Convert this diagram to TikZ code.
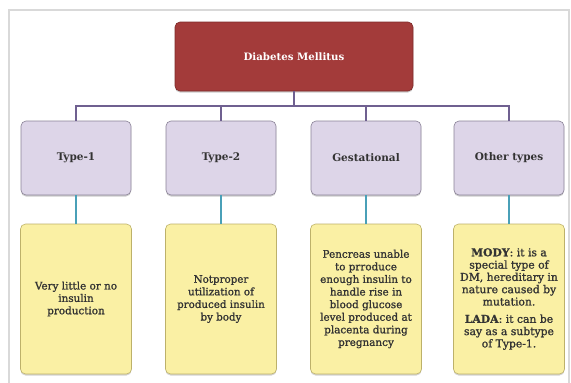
\documentclass[tikz,border=0pt]{standalone}
\usepackage{fontspec}
\setmainfont{DejaVu Serif}
\newfontfamily\notefont{DejaVu Serif}[FakeBold=1.2]
\usetikzlibrary{positioning,calc,shadows}
\definecolor{RootRed}{HTML}{A33B3A}
\definecolor{RootEdge}{HTML}{7C2A29}
\definecolor{TypeFill}{HTML}{DDD5E8}
\definecolor{TypeEdge}{HTML}{8A8296}
\definecolor{NoteFill}{HTML}{FAF0A4}
\definecolor{NoteEdge}{HTML}{BDB16A}
\definecolor{BusPurple}{HTML}{6F6090}
\definecolor{DropTeal}{HTML}{4AA0B8}
\definecolor{TextGray}{HTML}{333333}
\definecolor{FrameGray}{HTML}{D9D9D9}
\newcommand{\notesize}[2]{\fontsize{#1}{#2}\selectfont}
\tikzset{chart layout/.style={%
    x=1pt,%
    y=-1pt,%
    every node/.style={%
        rounded corners=5pt, align=center, inner sep=2pt%
    }%
}}
\tikzset{root box/.style={%
    fill=RootRed, draw=RootEdge, line width=0.6pt,
    minimum width=238pt, minimum height=69pt,
    text=white, font=\bfseries\notesize{10.2}{12},
    drop shadow={shadow xshift=0pt, shadow yshift=-1.5pt, opacity=0.4}
}}
\tikzset{type box/.style={%
    fill=TypeFill, draw=TypeEdge, line width=0.6pt,
    minimum width=110pt, minimum height=74pt,
    text=TextGray, font=\bfseries\notesize{10.5}{12},
    drop shadow={shadow xshift=0pt, shadow yshift=-1.5pt, opacity=0.4}
}}
\tikzset{note box/.style={%
    fill=NoteFill, draw=NoteEdge, line width=0.6pt,
    minimum width=111pt, minimum height=150pt,
    text=TextGray,
    drop shadow={shadow xshift=0pt, shadow yshift=-1.5pt, opacity=0.35}
}}
\tikzset{bus line/.style={draw=BusPurple, line width=2.2pt}}
\tikzset{drop line/.style={draw=DropTeal, line width=2pt}}
\tikzset{frame line/.style={draw=FrameGray, line width=1.4pt}}

\begin{document}
\begin{tikzpicture}[chart layout]
    \useasboundingbox (0,0) rectangle (571,383);
    \draw[frame line] (9,383) -- (9,10) -- (569,10) -- (569,383);

    \node[root box] (dm) at (294,56.5) {Diabetes Mellitus};
    \coordinate (bus) at (294,106);

    \foreach \i/\x/\kind in {1/76/Type-1,2/221/Type-2,3/366/Gestational,4/509/Other types} {
        \node[type box] (t\i) at (\x,158) {\kind};
    }

    \node[note box, font=\notefont\notesize{10.4}{12.4}] (n1) at (76,299)
        {Very little or no\\insulin\\production};
    \node[note box, font=\notefont\notesize{10.3}{12.6}] (n2) at (221,299)
        {Notproper\\utilization of\\produced insulin\\by body};
    \node[note box, font=\notefont\notesize{10.4}{12.6}] (n3) at (366,299)
        {Pencreas unable\\to prroduce\\enough insulin to\\handle rise in\\blood glucose\\level produced at\\placenta during\\pregnancy};
    \node[note box, font=\notefont\notesize{10.8}{12.3}] (n4) at (509,299)
        {\textbf{MODY}: it is a\\special type of\\DM, hereditary in\\nature caused by\\mutation.\\[5pt]\textbf{LADA}: it can be\\say as a subtype\\of Type-1.};

    \draw[bus line] (dm.south) -- (bus);
    \foreach \i in {1,...,4} {
        \draw[bus line] (bus) -| (t\i.north);
        \draw[drop line] (t\i.south) -- (n\i.north);
    }
\end{tikzpicture}
\end{document}
